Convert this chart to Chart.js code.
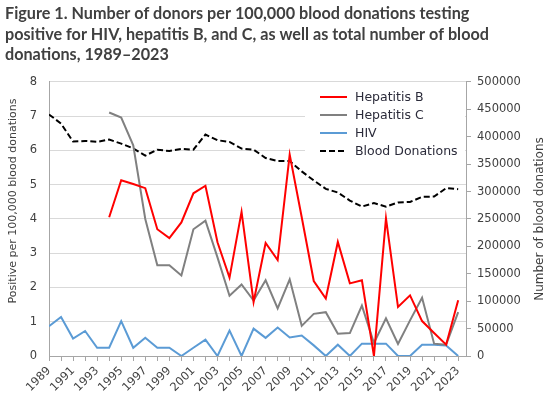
<!DOCTYPE html>
<html>
<head>
<meta charset="utf-8">
<script src="https://cdn.jsdelivr.net/npm/chart.js@4/dist/chart.umd.min.js"></script>
<style>
  body { margin: 0; background: #fff; }
  #wrap { width: 550px; height: 402px; }
</style>
</head>
<body>
<div id="wrap"><canvas id="donorChart"></canvas></div>
<script>
const years = [1989, 1990, 1991, 1992, 1993, 1994, 1995, 1996, 1997, 1998, 1999, 2000,
  2001, 2002, 2003, 2004, 2005, 2006, 2007, 2008, 2009, 2010, 2011, 2012,
  2013, 2014, 2015, 2016, 2017, 2018, 2019, 2020, 2021, 2022, 2023];

const hepB = [null, null, null, null, null, 4.05, 5.13, 5.02, 4.90, 3.70, 3.44, 3.90,
  4.75, 4.97, 3.32, 2.29, 4.21, 1.58, 3.30, 2.80, 5.88, 4.05, 2.19, 1.68,
  3.33, 2.12, 2.21, 0, 4.02, 1.43, 1.77, 1.02, 0.67, 0.33, 1.63];

const hepC = [null, null, null, null, null, 7.11, 6.96, 6.15, 4.00, 2.65, 2.65, 2.35,
  3.70, 3.95, 2.88, 1.76, 2.09, 1.62, 2.21, 1.39, 2.24, 0.88, 1.23, 1.28,
  0.65, 0.67, 1.47, 0.38, 1.10, 0.35, 1.04, 1.70, 0.36, 0.33, 1.28];

const hiv = [0.87, 1.14, 0.51, 0.73, 0.24, 0.24, 1.02, 0.24, 0.53, 0.24, 0.24, 0,
  0.24, 0.48, 0, 0.74, 0, 0.80, 0.53, 0.83, 0.54, 0.60, 0.31, 0,
  0.33, 0, 0.36, 0.36, 0.36, 0, 0, 0.33, 0.33, 0.31, 0];

const donations = [440800, 424000, 391300, 392400, 390700, 394900, 387500, 378800, 365600, 376500, 374000, 377800,
  376500, 404000, 393700, 390600, 378400, 376500, 361300, 355800, 355800, 336800, 320300, 305000,
  298300, 283600, 272600, 279100, 272600, 280100, 281200, 290300, 290900, 306200, 304400];

const titleLines = [
  'Figure 1. Number of donors per 100,000 blood donations testing',
  'positive for HIV, hepatitis B, and C, as well as total number of blood',
  'donations, 1989\u20132023'
];
const leftTitle = 'Positive per 100,000 blood donations';
const rightTitle = 'Number of blood donations';

const textColor = '#404040';
const axisColor = '#a6a6a6';
const gridColor = '#d9d9d9';
const baseFont = 'DejaVu Sans';

function points(values) {
  return years.map((yr, i) => ({ x: yr, y: values[i] }));
}

// legend sits inside the plot, top right, on a white box
const insideLegend = {
  id: 'insideLegend',
  beforeDatasetsDraw(chart) {
    const ctx = chart.ctx;
    const area = chart.chartArea;
    ctx.save();
    ctx.fillStyle = '#ffffff';
    ctx.fillRect(area.right - 161, area.top + 2, 160, 80);
    ctx.font = '12.5px "' + baseFont + '"';
    ctx.textBaseline = 'middle';
    chart.data.datasets.forEach((ds, i) => {
      const y = area.top + 15 + i * 18;
      ctx.beginPath();
      ctx.strokeStyle = ds.borderColor;
      ctx.lineWidth = ds.borderWidth;
      ctx.setLineDash(ds.borderDash || []);
      ctx.moveTo(area.right - 146, y);
      ctx.lineTo(area.right - 119, y);
      ctx.stroke();
      ctx.setLineDash([]);
      ctx.fillStyle = '#2b2b3a';
      ctx.fillText(ds.label, area.right - 111, y + 1);
    });
    ctx.restore();
  }
};

// both axis titles read bottom-to-top, like the original
const axisTitles = {
  id: 'axisTitles',
  afterDraw(chart) {
    const ctx = chart.ctx;
    const area = chart.chartArea;
    ctx.save();
    ctx.fillStyle = textColor;
    ctx.textAlign = 'center';
    ctx.textBaseline = 'middle';

    ctx.save();
    ctx.translate(13, area.top + 119);
    ctx.rotate(-Math.PI / 2);
    ctx.font = '11px "' + baseFont + '"';
    ctx.fillText(leftTitle, 0, 0);
    ctx.restore();

    ctx.save();
    ctx.translate(540, (area.top + area.bottom) / 2);
    ctx.rotate(-Math.PI / 2);
    ctx.font = '12px "' + baseFont + '"';
    ctx.fillText(rightTitle, 0, 0);
    ctx.restore();

    ctx.restore();
  }
};

new Chart(document.getElementById('donorChart'), {
  type: 'line',
  data: {
    datasets: [
      { label: 'Hepatitis B', data: points(hepB), borderColor: '#ff0000', borderWidth: 2, yAxisID: 'y' },
      { label: 'Hepatitis C', data: points(hepC), borderColor: '#808080', borderWidth: 2, yAxisID: 'y' },
      { label: 'HIV', data: points(hiv), borderColor: '#5b9bd5', borderWidth: 2, yAxisID: 'y' },
      { label: 'Blood Donations', data: points(donations), borderColor: '#000000', borderWidth: 2,
        borderDash: [6, 3], yAxisID: 'y1' }
    ]
  },
  options: {
    responsive: true,
    maintainAspectRatio: false,
    animation: false,
    layout: { padding: { left: 5, right: 0, top: 0, bottom: 0 } },
    elements: { point: { radius: 0 }, line: { tension: 0 } },
    plugins: {
      legend: { display: false },
      tooltip: { enabled: false },
      title: {
        display: true,
        text: titleLines,
        align: 'start',
        color: textColor,
        font: { family: 'Lato', size: 16.2, weight: 'bold', lineHeight: 1.265 },
        padding: { top: 4, bottom: 16.5 }
      }
    },
    scales: {
      x: {
        type: 'linear',
        min: 1989,
        max: 2023.65,
        afterFit(scale) { scale.height = 46; },
        border: { color: axisColor },
        grid: { drawOnChartArea: false, drawTicks: true, tickLength: 5, color: axisColor },
        ticks: {
          stepSize: 1,
          includeBounds: false,
          autoSkip: false,
          maxRotation: 45,
          minRotation: 45,
          padding: 3,
          color: textColor,
          font: { family: baseFont, size: 11.5 },
          callback: (v) => (Number.isInteger(v) && v % 2 === 1) ? String(v) : ''
        }
      },
      y: {
        position: 'left',
        min: 0,
        max: 8,
        afterFit(scale) { scale.width = 44; },
        border: { color: axisColor },
        grid: { color: gridColor, drawTicks: false },
        ticks: { stepSize: 1, padding: 12, color: textColor, font: { family: baseFont, size: 11.5 } }
      },
      y1: {
        position: 'right',
        min: 0,
        max: 500000,
        afterFit(scale) { scale.width = 84; },
        border: { color: axisColor },
        grid: { drawOnChartArea: false, tickLength: 5, color: axisColor },
        ticks: {
          stepSize: 50000,
          padding: 6,
          color: textColor,
          font: { family: baseFont, size: 11.5 },
          callback: (v) => String(v)
        }
      }
    }
  },
  plugins: [insideLegend, axisTitles]
});
</script>
</body>
</html>
